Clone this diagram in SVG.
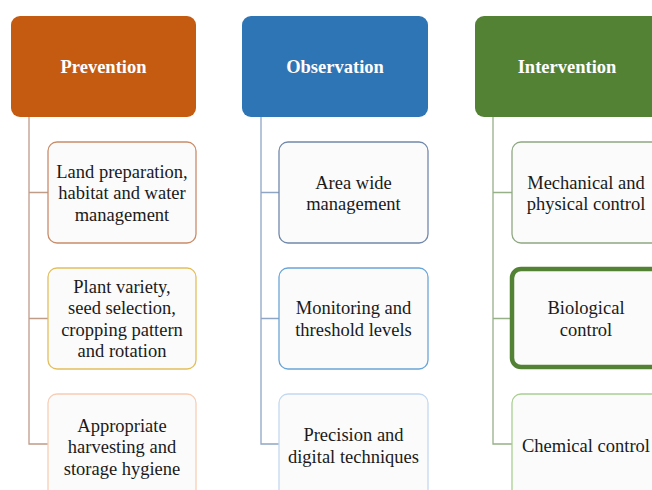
<svg xmlns="http://www.w3.org/2000/svg" width="652" height="490" viewBox="0 0 652 490">
  <style>
    .hdr-text { font-size: 18.5px; font-weight: bold; fill: #ffffff; text-anchor: middle; }
    .box-text { font-size: 18.5px; fill: #1a1a1a; text-anchor: middle; }
    .box { fill: #fbfbfb; stroke-width: 1.3; }
    .conn { fill: none; stroke-width: 1.3; }
  </style>
  <rect width="652" height="490" fill="#ffffff"/>

  <!-- connectors -->
  <g id="connectors">
    <path class="conn" stroke="#bf9c88" d="M29 117 V444 H48 M29 192.5 H48 M29 318.5 H48"/>
    <path class="conn" stroke="#8ea6c4" d="M261 117 V444 H279 M261 192.5 H279 M261 318.5 H279"/>
    <path class="conn" stroke="#96b088" d="M493 117 V444 H512 M493 192.5 H512 M493 318.5 H512"/>
  </g>

  <g font-family="'Liberation Serif', 'Times New Roman', serif">
    <!-- column headers -->
    <g id="prevention">
      <rect x="11" y="16" width="185" height="101" rx="9" fill="#c55a11"/>
      <text class="hdr-text" x="103.5" y="73">Prevention</text>
    </g>
    <g id="observation">
      <rect x="242" y="16" width="186" height="101" rx="9" fill="#2e75b6"/>
      <text class="hdr-text" x="335" y="73">Observation</text>
    </g>
    <g id="intervention">
      <rect x="475" y="16" width="186" height="101" rx="9" fill="#548235"/>
      <text class="hdr-text" x="567" y="73">Intervention</text>
    </g>

    <!-- prevention items -->
    <g id="land-preparation">
      <rect class="box" x="48" y="142" width="148" height="101" rx="9" stroke="#c98d6a"/>
      <text class="box-text" x="122" y="177.5">Land preparation,</text>
      <text class="box-text" x="122" y="199">habitat and water</text>
      <text class="box-text" x="122" y="220.5">management</text>
    </g>
    <g id="plant-variety">
      <rect class="box" x="48" y="268" width="148" height="101" rx="9" stroke="#e3bf5c"/>
      <text class="box-text" x="122" y="292.5">Plant variety,</text>
      <text class="box-text" x="122" y="314">seed selection,</text>
      <text class="box-text" x="122" y="335.5">cropping pattern</text>
      <text class="box-text" x="122" y="357">and rotation</text>
    </g>
    <g id="harvest-hygiene">
      <rect class="box" x="48" y="394" width="148" height="106" rx="9" stroke="#f7cdb4"/>
      <text class="box-text" x="122" y="431.5">Appropriate</text>
      <text class="box-text" x="122" y="453">harvesting and</text>
      <text class="box-text" x="122" y="474.5">storage hygiene</text>
    </g>

    <!-- observation items -->
    <g id="area-wide">
      <rect class="box" x="279" y="142" width="149" height="101" rx="9" stroke="#7289ab"/>
      <text class="box-text" x="353.5" y="188.5">Area wide</text>
      <text class="box-text" x="353.5" y="210">management</text>
    </g>
    <g id="monitoring">
      <rect class="box" x="279" y="268" width="149" height="101" rx="9" stroke="#6aa5d8"/>
      <text class="box-text" x="353.5" y="314">Monitoring and</text>
      <text class="box-text" x="353.5" y="335.5">threshold levels</text>
    </g>
    <g id="precision">
      <rect class="box" x="279" y="394" width="149" height="106" rx="9" stroke="#c3d8f0"/>
      <text class="box-text" x="353.5" y="441">Precision and</text>
      <text class="box-text" x="353.5" y="462.5">digital techniques</text>
    </g>

    <!-- intervention items -->
    <g id="mechanical">
      <rect class="box" x="512" y="142" width="149" height="101" rx="9" stroke="#8fa882"/>
      <text class="box-text" x="586" y="188.5">Mechanical and</text>
      <text class="box-text" x="586" y="210">physical control</text>
    </g>
    <g id="biological">
      <rect x="512" y="269" width="149" height="98" rx="9" fill="#fbfbfb" stroke="#548235" stroke-width="4.5"/>
      <text class="box-text" x="586" y="314">Biological</text>
      <text class="box-text" x="586" y="335.5">control</text>
    </g>
    <g id="chemical">
      <rect class="box" x="512" y="394" width="149" height="106" rx="9" stroke="#a9cf92"/>
      <text class="box-text" x="586" y="452">Chemical control</text>
    </g>
  </g>
</svg>
